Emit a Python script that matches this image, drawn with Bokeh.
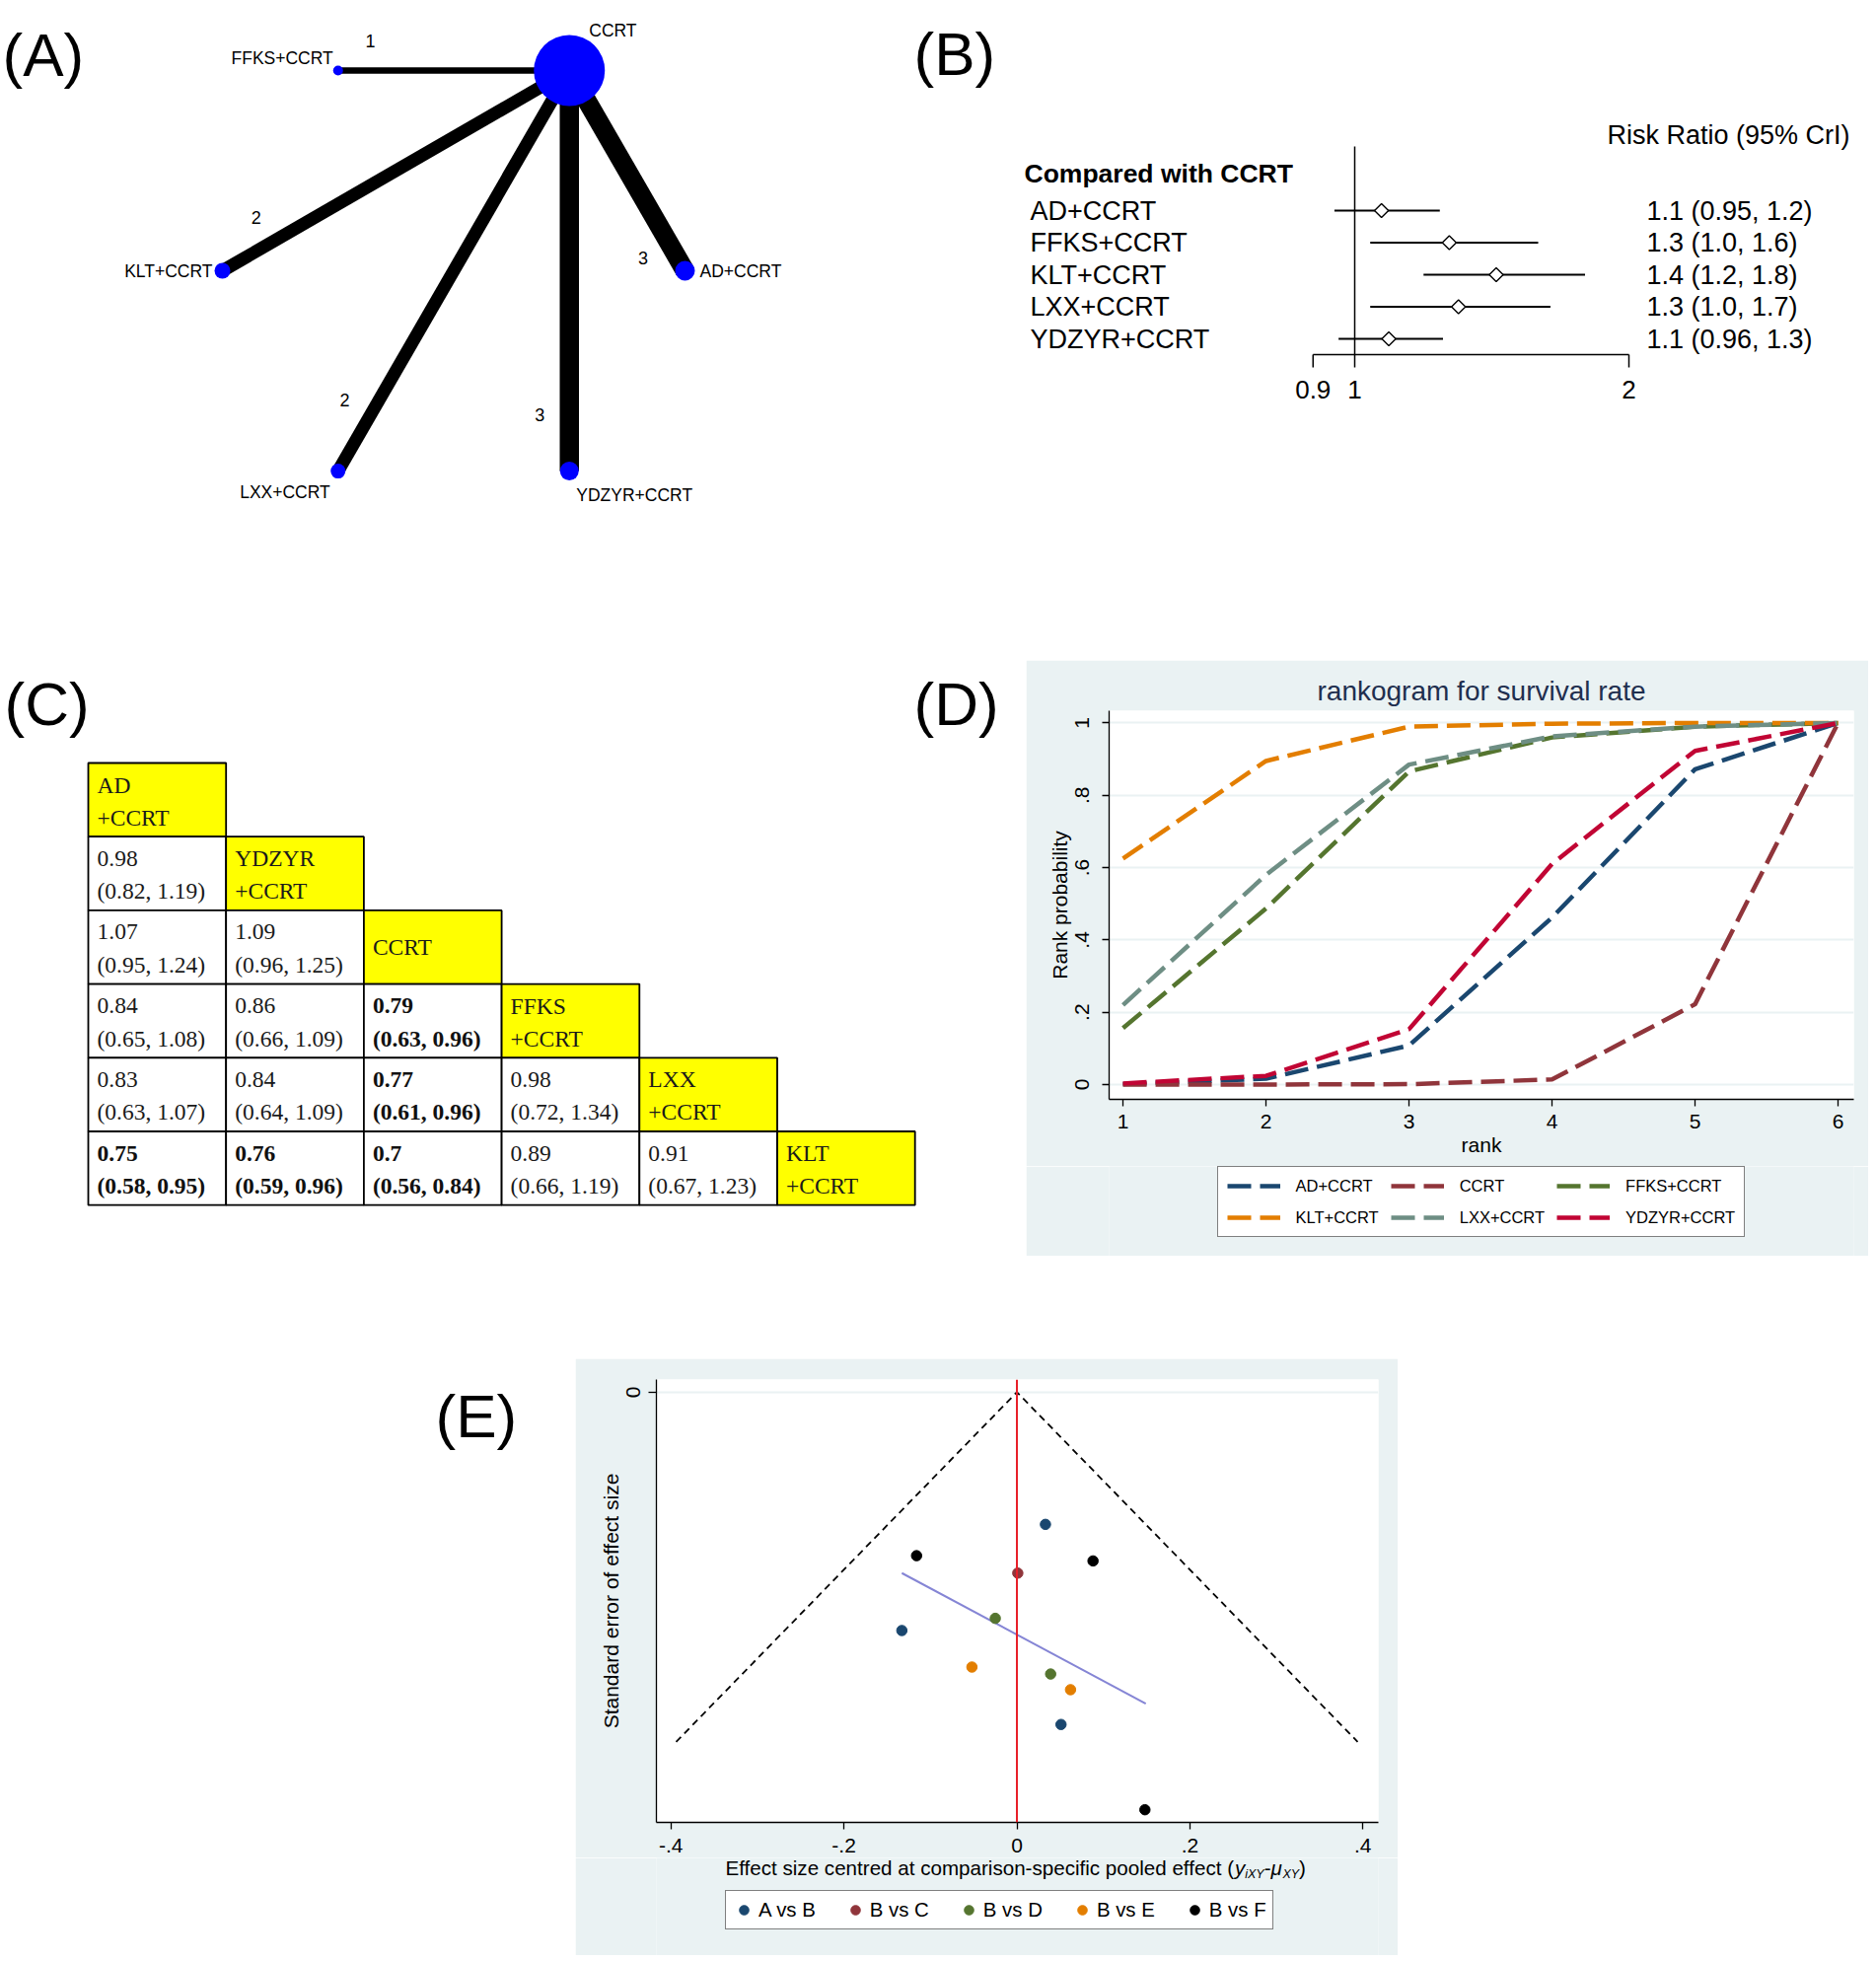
import math
from bokeh.plotting import figure
from bokeh.models import (Range1d, Label, Legend, LegendItem, FixedTicker, Spacer,
                          Span, CustomJSTickFormatter)
from bokeh.layouts import row, column
from bokeh.embed import file_html
from bokeh.resources import INLINE
from bokeh.core.properties import value

SANS = "Liberation Sans"
SERIF = "Liberation Serif"
BG = "#EAF2F3"
NAN = float("nan")

# ---------------- (A) network data ----------------
net_nodes = ["AD+CCRT", "CCRT", "FFKS+CCRT", "KLT+CCRT", "LXX+CCRT", "YDZYR+CCRT"]
net_angle = [0, 60, 120, 180, 240, 300]          # node position on the network circle (deg)
net_node_weight = [10, 36, 5, 8, 7.5, 9.5]       # node size (relative)
net_edge_from = ["CCRT", "CCRT", "CCRT", "CCRT", "CCRT"]
net_edge_to = ["FFKS+CCRT", "KLT+CCRT", "AD+CCRT", "LXX+CCRT", "YDZYR+CCRT"]
net_edge_studies = [1, 2, 3, 2, 3]

# ---------------- (B) forest data ----------------
forest_labels = ["AD+CCRT", "FFKS+CCRT", "KLT+CCRT", "LXX+CCRT", "YDZYR+CCRT"]
forest_est = [1.07, 1.27, 1.43, 1.30, 1.09]
forest_lo = [0.95, 1.04, 1.19, 1.04, 0.96]
forest_hi = [1.24, 1.59, 1.79, 1.64, 1.25]
forest_text = ["1.1 (0.95, 1.2)", "1.3 (1.0, 1.6)", "1.4 (1.2, 1.8)",
               "1.3 (1.0, 1.7)", "1.1 (0.96, 1.3)"]
forest_ticks = [0.9, 1, 2]

# ---------------- (C) league table data ----------------
league_names = [["AD", "+CCRT"], ["YDZYR", "+CCRT"], ["CCRT"],
                ["FFKS", "+CCRT"], ["LXX", "+CCRT"], ["KLT", "+CCRT"]]
league_est = [[], [0.98], [1.07, 1.09], [0.84, 0.86, 0.79],
              [0.83, 0.84, 0.77, 0.98], [0.75, 0.76, 0.7, 0.89, 0.91]]
league_lo = [[], [0.82], [0.95, 0.96], [0.65, 0.66, 0.63],
             [0.63, 0.64, 0.61, 0.72], [0.58, 0.59, 0.56, 0.66, 0.67]]
league_hi = [[], [1.19], [1.24, 1.25], [1.08, 1.09, 0.96],
             [1.07, 1.09, 0.96, 1.34], [0.95, 0.96, 0.84, 1.19, 1.23]]

# ---------------- (D) rankogram data ----------------
rank_pos = [1, 2, 3, 4, 5, 6]
rank_names = ["AD+CCRT", "CCRT", "FFKS+CCRT", "KLT+CCRT", "LXX+CCRT", "YDZYR+CCRT"]
rank_AD = [0.001, 0.016, 0.108, 0.462, 0.872, 1.0]
rank_CCRT = [0.0, 0.0, 0.001, 0.014, 0.222, 1.0]
rank_FFKS = [0.156, 0.487, 0.866, 0.96, 0.99, 1.0]
rank_KLT = [0.625, 0.895, 0.99, 0.998, 1.0, 1.0]
rank_LXX = [0.22, 0.58, 0.885, 0.963, 0.99, 1.0]
rank_YDZYR = [0.003, 0.024, 0.153, 0.61, 0.923, 1.0]
rank_yticks = [0, 0.2, 0.4, 0.6, 0.8, 1]

# ---------------- (E) funnel data ----------------
funnel_groups = ["A vs B", "B vs C", "B vs D", "B vs E", "B vs F"]
funnel_pt_group = ["A vs B", "B vs F", "B vs F", "B vs C", "B vs D", "A vs B",
                   "B vs E", "B vs D", "B vs E", "A vs B", "B vs F"]
funnel_x = [0.033, -0.116, 0.088, 0.001, -0.025, -0.133, -0.052, 0.039, 0.062, 0.051, 0.148]
funnel_se = [0.076, 0.094, 0.097, 0.104, 0.130, 0.137, 0.158, 0.162, 0.171, 0.191, 0.240]
funnel_se_max = 0.201
funnel_fit_x = [-0.133, 0.149]
funnel_fit_se = [0.104, 0.179]
funnel_xticks = [-0.4, -0.2, 0, 0.2, 0.4]

STATA = ["#1A476F", "#90353B", "#55752F", "#E37E00", "#6E8E84", "#C10534"]
FUNNEL_COLORS = ["#1A476F", "#90353B", "#55752F", "#E37E00", "#000000"]


def blank_fig(w, h, xr, yr, **kw):
    p = figure(width=w, height=h, x_range=xr, y_range=yr, output_backend="svg",
               toolbar_location=None, x_axis_location=None, y_axis_location=None,
               min_border=0, **kw)
    p.outline_line_color = None
    p.grid.visible = False
    return p


def letter(p, txt, x, y):
    p.add_layout(Label(x=x, y=y, text=txt, text_font=SANS, text_font_size="62px",
                       text_baseline="middle", text_align="left", text_color="black"))


def style_axis(ax, tick_out, standoff, label_standoff):
    ax.axis_line_color = "black"
    ax.axis_line_width = 1.3
    ax.major_tick_line_color = "black"
    ax.major_tick_line_width = 1.3
    ax.major_tick_out = tick_out
    ax.major_tick_in = 0
    ax.minor_tick_line_color = None
    ax.major_label_text_font = SANS
    ax.major_label_text_font_size = "21px"
    ax.major_label_text_color = "black"
    ax.major_label_standoff = standoff
    ax.axis_label_text_font = SANS
    ax.axis_label_text_font_size = "21px"
    ax.axis_label_text_font_style = "normal"
    ax.axis_label_text_color = "black"
    ax.axis_label_standoff = label_standoff


# =============== (A) ===============
PX = 234.5
A_W, A_H = 900, 600
A_CX, A_CY = 459.5, 274
pA = blank_fig(A_W, A_H, Range1d(-A_CX / PX, (A_W - A_CX) / PX),
               Range1d(-(A_H - A_CY) / PX, A_CY / PX))


def a_xy(sx, sy):
    return (sx - A_CX) / PX, (A_CY - sy) / PX


nx = {n: math.cos(math.radians(a)) for n, a in zip(net_nodes, net_angle)}
ny = {n: math.sin(math.radians(a)) for n, a in zip(net_nodes, net_angle)}
ex0 = [nx[f] for f in net_edge_from]
ey0 = [ny[f] for f in net_edge_from]
ex1 = [nx[t] for t in net_edge_to]
ey1 = [ny[t] for t in net_edge_to]
pA.segment(ex0, ey0, ex1, ey1, line_width=[6.5 * n for n in net_edge_studies],
           line_color="black", line_cap="butt")
pA.scatter([nx[n] for n in net_nodes], [ny[n] for n in net_nodes],
           size=[2 * w for w in net_node_weight], fill_color="#0000FF", line_color=None)

label_place = {"CCRT": (20, -40, "left"), "FFKS+CCRT": (-5, -12, "right"),
               "KLT+CCRT": (-10, 0, "right"), "AD+CCRT": (15, 0, "left"),
               "LXX+CCRT": (-8, 21, "right"), "YDZYR+CCRT": (7, 24, "left")}
for n in net_nodes:
    dx, dy, al = label_place[n]
    pA.text([nx[n] + dx / PX], [ny[n] - dy / PX], text=[n], text_font=value(SANS),
            text_font_size="17.5px", text_align=al, text_baseline="middle", text_color="black")

lx, ly = [], []
for x0, y0, x1, y1 in zip(ex0, ey0, ex1, ey1):
    L = math.hypot(x1 - x0, y1 - y0)
    dxu, dyu = (x1 - x0) / L, (y1 - y0) / L
    t = 0.86
    lx.append(x0 + t * (x1 - x0) + dyu * 30 / PX)
    ly.append(y0 + t * (y1 - y0) - dxu * 30 / PX)
pA.text(lx, ly, text=[str(n) for n in net_edge_studies], text_font=value(SANS),
        text_font_size="18px", text_align="center", text_baseline="middle", text_color="black")
letter(pA, "(A)", *a_xy(2, 55))

# =============== (B) ===============
B_X0, B_W, B_H = 900, 994, 600


def b_x(sx):
    return 2 ** ((sx - 1373) / 278.0)


def b_y(sy):
    return (sy - 213) / 32.5


pB = blank_fig(B_W, B_H, Range1d(b_x(B_X0), b_x(B_X0 + B_W)), Range1d(b_y(B_H), b_y(0)),
               x_axis_type="log")
rows_b = list(range(len(forest_labels)))
# reference line at RR = 1
pB.segment([1], [b_y(148)], [1], [b_y(359)], line_color="black", line_width=1.5)
pB.segment(forest_lo, rows_b, forest_hi, rows_b, line_color="black", line_width=2)
pB.scatter(forest_est, rows_b, marker="square", angle=math.pi / 4, size=10,
           fill_color="white", line_color="black", line_width=1.4)
pB.text([b_x(1044)] * 5, rows_b, text=forest_labels, text_font=value(SANS),
        text_font_size="27px", text_baseline="middle", text_color="black")
pB.text([b_x(1669)] * 5, rows_b, text=forest_text, text_font=value(SANS),
        text_font_size="27px", text_baseline="middle", text_color="black")
pB.text([b_x(1038)], [b_y(175)], text=["Compared with CCRT"], text_font=value(SANS),
        text_font_size="26.5px", text_font_style="bold", text_baseline="middle")
pB.text([b_x(1629)], [b_y(136)], text=["Risk Ratio (95% CrI)"], text_font=value(SANS),
        text_font_size="27px", text_baseline="middle")
# bounded Stata-style x axis (0.9 .. 2) on the log scale
pB.segment([forest_ticks[0]], [b_y(359)], [forest_ticks[-1]], [b_y(359)],
           line_color="black", line_width=1.5)
pB.segment(forest_ticks, [b_y(359)] * 3, forest_ticks, [b_y(372)] * 3,
           line_color="black", line_width=1.5)
pB.text(forest_ticks, [b_y(394)] * 3, text=[("%g" % t) for t in forest_ticks],
        text_font=value(SANS), text_font_size="26px", text_align="center",
        text_baseline="middle", text_color="black")
letter(pB, "(B)", b_x(926), b_y(54))

# =============== (C) ===============
C_W, C_H = 1040, 690
CW, RH = 139.7, 74.7


def c_x(sx):
    return (sx - 89) / CW


def c_y(sy):
    return (sy - 773) / RH


pC = blank_fig(C_W, C_H, Range1d(c_x(0), c_x(C_W)), Range1d(c_y(1290), c_y(600)))
ql, qr, qt, qb, qf = [], [], [], [], []
for r in range(len(league_names)):
    for c in range(r + 1):
        ql.append(c); qr.append(c + 1); qt.append(r); qb.append(r + 1)
        qf.append("#FFFF00" if c == r else "white")
pC.quad(left=ql, right=qr, top=qt, bottom=qb, fill_color=qf, line_color="black", line_width=1.8)

px_off = 9 / CW
norm = {"x": [], "y": [], "t": []}
bold = {"x": [], "y": [], "t": []}
for r in range(len(league_names)):
    nm = league_names[r]
    if len(nm) == 1:
        norm["x"].append(r + px_off); norm["y"].append(r + 0.5); norm["t"].append(nm[0])
    else:
        for k, s in enumerate(nm):
            norm["x"].append(r + px_off); norm["y"].append(r + (22 if k == 0 else 55) / RH)
            norm["t"].append(s)
    for c in range(r):
        e, lo, hi = league_est[r][c], league_lo[r][c], league_hi[r][c]
        tgt = bold if (hi < 1 or lo > 1) else norm
        tgt["x"] += [c + px_off, c + px_off]
        tgt["y"] += [r + 22 / RH, r + 55 / RH]
        tgt["t"] += ["%g" % e, "(%g, %g)" % (lo, hi)]
pC.text(norm["x"], norm["y"], text=norm["t"], text_font=value(SERIF), text_font_size="23.5px",
        text_baseline="middle", text_color="#1a1a1a")
pC.text(bold["x"], bold["y"], text=bold["t"], text_font=value(SERIF), text_font_size="23.5px",
        text_font_style="bold", text_baseline="middle", text_color="#111111")
letter(pC, "(C)", c_x(4), c_y(713))
letter(pC, "(D)", c_x(926), c_y(713))

# =============== (D) ===============
D_X0, D_Y0, D_W = 1040, 669, 854
D_SPLIT, D_Y1 = 1182, 1273                      # plot part / legend part
D_FL, D_FR, D_FT, D_FB = 1124, 1879, 720, 1114   # frame edges (page px)
pD = figure(width=D_W, height=D_SPLIT - D_Y0, x_range=Range1d(0.903, 6.110),
            y_range=Range1d(-0.041, 1.034), output_backend="svg", toolbar_location=None,
            min_border_left=D_FL - D_X0, min_border_right=D_X0 + D_W - D_FR,
            min_border_top=D_FT - D_Y0, min_border_bottom=D_SPLIT - D_FB,
            title="rankogram for survival rate")
pD.border_fill_color = BG
pD.background_fill_color = "white"
pD.outline_line_color = None
pD.title.align = "center"
pD.title.text_font = SANS
pD.title.text_font_size = "28px"
pD.title.text_font_style = "normal"
pD.title.text_color = "#1F2F4F"
rank_vals = [rank_AD, rank_CCRT, rank_FFKS, rank_KLT, rank_LXX, rank_YDZYR]
for name, vals, col in zip(rank_names, rank_vals, STATA):
    pD.line(rank_pos, vals, line_color=col, line_width=4.5, line_dash="24 9")
pD.xgrid.visible = False
pD.ygrid.ticker = FixedTicker(ticks=rank_yticks)
pD.ygrid.grid_line_color = BG
pD.ygrid.grid_line_width = 2
pD.xaxis.ticker = FixedTicker(ticks=rank_pos)
pD.yaxis.ticker = FixedTicker(ticks=rank_yticks)
pD.yaxis.formatter = CustomJSTickFormatter(
    code="if (tick == 0) return '0'; if (tick == 1) return '1'; return tick.toFixed(1).replace(/^0/, '');")
pD.yaxis.major_label_orientation = "vertical"
pD.xaxis.axis_label = "rank"
pD.yaxis.axis_label = "Rank probability"
style_axis(pD.xaxis[0], 7, 8, 2)
style_axis(pD.yaxis[0], 7, 13, 2)

# legend strip of (D)
pDl = blank_fig(D_W, D_Y1 - D_SPLIT, Range1d(0, D_FR - D_FL), Range1d(0, D_Y1 - D_SPLIT),
                min_border_left=D_FL - D_X0, min_border_right=D_X0 + D_W - D_FR)
pDl.border_fill_color = BG
pDl.background_fill_color = BG
itemsD = []
for name, col in zip(rank_names, STATA):
    rr = pDl.line([NAN], [NAN], line_color=col, line_width=4.5, line_dash="24 9")
    itemsD.append(LegendItem(label=value(name), renderers=[rr]))
LEG_D_W = 536
legD = Legend(items=itemsD, ncols=3, orientation="horizontal",
              location=((D_FR - D_FL - LEG_D_W) / 2, D_Y1 - 1254),
              glyph_width=54, glyph_height=20, label_standoff=16, spacing=12, padding=9,
              label_text_font=SANS, label_text_font_size="16.5px", label_text_color="black",
              border_line_color="black", border_line_width=1.5, background_fill_color="white",
              background_fill_alpha=1.0, margin=0)
pDl.add_layout(legD)

# =============== (E) label ===============
E_ROW0 = 1290
pEl = blank_fig(583, 1982 - E_ROW0, Range1d(0, 583), Range1d(1982 - E_ROW0, 0))
letter(pEl, "(E)", 441, 1435 - E_ROW0)

# =============== (E) funnel ===============
E_X0, E_Y0, E_W = 583, 1377, 834
E_SPLIT, E_Y1 = 1883, 1982
E_FL, E_FR, E_FT, E_FB = 665, 1397, 1398, 1847


def e_x(sx):
    return (sx - 1030.5) / 877.0


def e_y(sy):
    return (sy - 1410.8) / 1764.0


pE = figure(width=E_W, height=E_SPLIT - E_Y0, x_range=Range1d(e_x(E_FL), e_x(E_FR)),
            y_range=Range1d(e_y(E_FB), e_y(E_FT)), output_backend="svg",
            toolbar_location=None, min_border_left=E_FL - E_X0,
            min_border_right=E_X0 + E_W - E_FR, min_border_top=E_FT - E_Y0,
            min_border_bottom=E_SPLIT - E_FB)
pE.border_fill_color = BG
pE.background_fill_color = "white"
pE.outline_line_color = None
pE.xgrid.visible = False
pE.ygrid.ticker = FixedTicker(ticks=[0])
pE.ygrid.grid_line_color = BG
pE.ygrid.grid_line_width = 2
pE.line([-1.96 * funnel_se_max, 0, 1.96 * funnel_se_max], [funnel_se_max, 0, funnel_se_max],
        line_color="black", line_width=1.8, line_dash="7 5")
pE.add_layout(Span(location=0, dimension="height", line_color="#E8202A", line_width=2))
pE.line(funnel_fit_x, funnel_fit_se, line_color="#8585D5", line_width=2)
for g, col in zip(funnel_groups, FUNNEL_COLORS):
    xs = [x for x, gg in zip(funnel_x, funnel_pt_group) if gg == g]
    ys = [y for y, gg in zip(funnel_se, funnel_pt_group) if gg == g]
    pE.scatter(xs, ys, size=10.5, fill_color=col, line_color=col)
pE.xaxis.ticker = FixedTicker(ticks=funnel_xticks)
pE.xaxis.formatter = CustomJSTickFormatter(
    code="if (Math.abs(tick) < 1e-9) return '0'; var s = Math.abs(tick).toFixed(1).replace(/^0/, ''); return (tick < 0 ? '-' : '') + s;")
pE.yaxis.ticker = FixedTicker(ticks=[0])
pE.yaxis.formatter = CustomJSTickFormatter(code="return '0';")
pE.yaxis.major_label_orientation = "vertical"
pE.yaxis.axis_label = "Standard error of effect size"
style_axis(pE.xaxis[0], 7, 9, 2)
style_axis(pE.yaxis[0], 8, 8, 2)

# title + legend strip of (E)
pEb = blank_fig(E_W, E_Y1 - E_SPLIT, Range1d(e_x(E_FL), e_x(E_FR)), Range1d(E_Y1, E_SPLIT),
                min_border_left=E_FL - E_X0, min_border_right=E_X0 + E_W - E_FR)
pEb.border_fill_color = BG
pEb.background_fill_color = BG
TC = 1893
title_pieces = [("Effect size centred at comparison-specific pooled effect (", 735, 0, "20.6px", "normal"),
                ("y", 1251.4, 0, "20.6px", "italic"),
                ("iXY", 1261.7, 6, "12.5px", "italic"),
                ("-", 1281.2, 0, "20.6px", "normal"),
                ("\u03bc", 1288.0, 0, "20.6px", "italic"),
                ("XY", 1300.0, 6, "12.5px", "italic"),
                (")", 1316.6, 0, "20.6px", "normal")]
for txt, sx, dy, fs, st in title_pieces:
    pEb.add_layout(Label(x=e_x(sx), y=TC + dy, text=txt, text_font=SANS, text_font_size=fs,
                         text_font_style=st, text_baseline="middle", text_align="left",
                         text_color="black"))
itemsE = []
for g, col in zip(funnel_groups, FUNNEL_COLORS):
    rr = pEb.scatter([NAN], [NAN], size=10.5, fill_color=col, line_color=col)
    itemsE.append(LegendItem(label=value(g), renderers=[rr]))
legE = Legend(items=itemsE, orientation="horizontal", location=(735 - E_FL, E_Y1 - 1956),
              glyph_width=24, glyph_height=26, label_standoff=3, spacing=28, padding=6,
              label_text_font=SANS, label_text_font_size="20.4px", label_text_color="black",
              border_line_color="black", border_line_width=1.5, background_fill_color="white",
              background_fill_alpha=1.0, margin=0)
pEb.add_layout(legE)

layout = column(
    row(pA, pB),
    row(pC, column(Spacer(width=D_W, height=D_Y0 - 600), pD, pDl,
                   Spacer(width=D_W, height=1290 - D_Y1))),
    row(pEl, column(Spacer(width=E_W, height=E_Y0 - E_ROW0), pE, pEb)),
)

open("out.html", "w").write(file_html(layout, INLINE))
